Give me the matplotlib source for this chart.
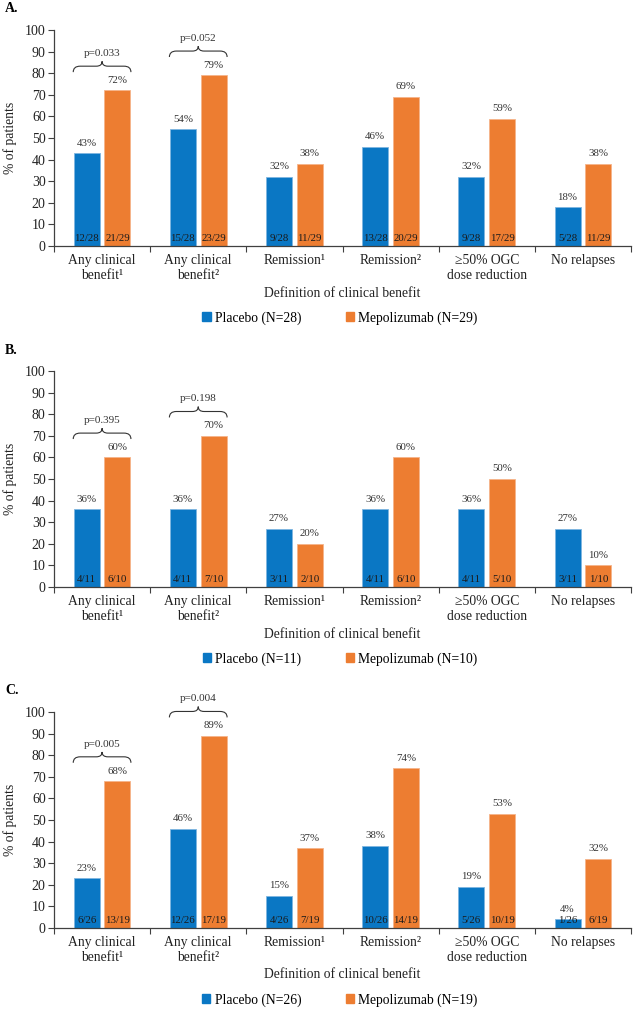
import matplotlib
matplotlib.use("Agg")
import matplotlib.pyplot as plt
from matplotlib.path import Path
from matplotlib.patches import PathPatch, Patch
import numpy as np

plt.rcParams['font.family'] = ['Liberation Serif', 'DejaVu Serif']

# Categories
categories = ["Any clinical\nbenefit\u00b9", "Any clinical\nbenefit\u00b2", "Remission\u00b9",
              "Remission\u00b2", "\u226550% OGC\ndose reduction", "No relapses"]

# Panel A
a_placebo = [43, 54, 32, 46, 32, 18]
a_mepo = [72, 79, 38, 69, 59, 38]
a_frac_placebo = ["12/28", "15/28", "9/28", "13/28", "9/28", "5/28"]
a_frac_mepo = ["21/29", "23/29", "11/29", "20/29", "17/29", "11/29"]
a_pvals = ["p=0.033", "p=0.052"]
a_n = (28, 29)

# Panel B
b_placebo = [36, 36, 27, 36, 36, 27]
b_mepo = [60, 70, 20, 60, 50, 10]
b_frac_placebo = ["4/11", "4/11", "3/11", "4/11", "4/11", "3/11"]
b_frac_mepo = ["6/10", "7/10", "2/10", "6/10", "5/10", "1/10"]
b_pvals = ["p=0.395", "p=0.198"]
b_n = (11, 10)

# Panel C
c_placebo = [23, 46, 15, 38, 19, 4]
c_mepo = [68, 89, 37, 74, 53, 32]
c_frac_placebo = ["6/26", "12/26", "4/26", "10/26", "5/26", "1/26"]
c_frac_mepo = ["13/19", "17/19", "7/19", "14/19", "10/19", "6/19"]
c_pvals = ["p=0.005", "p=0.004"]
c_n = (26, 19)

BLUE = '#0a77c4'
ORANGE = '#ed7d31'
AXC = '#404040'

W = 633
H = 1015
fig = plt.figure(figsize=(W / 100, H / 100), dpi=100)


def brace(ax, x0, x1, y0, h):
    # horizontal curly brace, tip pointing up
    xm = (x0 + x1) / 2
    w = x1 - x0
    ym = y0 + h * 0.55
    verts = [(x0, y0), (x0, ym), (x0 + w * 0.12, ym),
             (xm - w * 0.1, ym), (xm, ym), (xm, y0 + h),
             (xm, ym), (xm + w * 0.1, ym),
             (x1 - w * 0.12, ym), (x1, ym), (x1, y0)]
    codes = [Path.MOVETO, Path.CURVE3, Path.CURVE3,
             Path.LINETO, Path.CURVE3, Path.CURVE3,
             Path.CURVE3, Path.CURVE3,
             Path.LINETO, Path.CURVE3, Path.CURVE3]
    ax.add_patch(PathPatch(Path(verts, codes), fc='none', ec='#333333',
                           lw=0.8, clip_on=False))


def draw_panel(top_px, letter, placebo, mepo, fp, fm, pvals, n):
    zero_px = top_px + 216
    ax = fig.add_axes([54 / W, 1 - zero_px / H, 577 / W, 216 / H])
    x = np.arange(len(categories))
    off = 0.16
    bw = 0.27
    ax.bar(x - off, placebo, bw, color=BLUE, edgecolor='#7fb6e0', linewidth=0.6)
    ax.bar(x + off, mepo, bw, color=ORANGE, edgecolor='#f5b48a', linewidth=0.6)
    for i in range(len(x)):
        for xx, v, f in ((x[i] - off, placebo[i], fp[i]), (x[i] + off, mepo[i], fm[i])):
            ax.annotate(f"{v}%", (xx, v), xytext=(0, 4), textcoords='offset points',
                        ha='center', va='bottom', fontsize=7.8, color='#333333')
            ax.annotate(f, (xx, 0), xytext=(0, 2), textcoords='offset points',
                        ha='center', va='bottom', fontsize=7.8, color='#1a1a1a')
    for i, p in enumerate(pvals):
        top = max(placebo[i], mepo[i]) + 8.5
        brace(ax, x[i] - 0.30, x[i] + 0.30, top, 5)
        ax.text(x[i], top + 6.5, p, ha='center', va='bottom', fontsize=8,
                color='#333333', clip_on=False)

    ax.set_xlim(-0.5, len(categories) - 0.5)
    ax.set_ylim(0, 100)
    ax.set_yticks(range(0, 101, 10))
    ax.set_xticks(np.arange(-0.5, len(categories)), minor=False)
    ax.set_xticklabels([])
    ax.set_xticks(x, minor=True)
    ax.set_xticklabels(categories, minor=True, fontsize=9.8, color='#222222')
    ax.tick_params(axis='x', which='major', length=4, width=0.8, color=AXC, direction='out')
    ax.tick_params(axis='x', which='minor', length=0, pad=6)
    ax.tick_params(axis='y', length=4, width=0.8, color=AXC, labelsize=10,
                   labelcolor='#222222', pad=2)
    for s in ('top', 'right'):
        ax.spines[s].set_visible(False)
    for s in ('left', 'bottom'):
        ax.spines[s].set_color(AXC)
        ax.spines[s].set_linewidth(0.9)
    ax.set_ylabel("% of patients", fontsize=9.8, color='#222222')
    ax.yaxis.set_label_coords(-0.064, 0.5)

    fig.text(5 / W, 1 - (top_px - 21) / H, letter, fontsize=10, fontweight='bold',
             ha='left', va='center')
    fig.text(342 / W, 1 - (zero_px + 47) / H, "Definition of clinical benefit",
             fontsize=9.8, ha='center', va='center', color='#222222')
    handles = [Patch(color=BLUE), Patch(color=ORANGE)]
    labels = [f"Placebo (N={n[0]})", f"Mepolizumab (N={n[1]})"]
    fig.legend(handles, labels, loc='center', bbox_to_anchor=(340 / W, 1 - (zero_px + 72) / H),
               ncol=2, frameon=False, fontsize=9.8, handlelength=0.6, handleheight=0.6,
               handletextpad=0.3, columnspacing=3.3, borderaxespad=0)
    return ax


draw_panel(30, "A.", a_placebo, a_mepo, a_frac_placebo, a_frac_mepo, a_pvals, a_n)
draw_panel(371, "B.", b_placebo, b_mepo, b_frac_placebo, b_frac_mepo, b_pvals, b_n)
draw_panel(712, "C.", c_placebo, c_mepo, c_frac_placebo, c_frac_mepo, c_pvals, c_n)

fig.savefig("out.png", dpi=100)
